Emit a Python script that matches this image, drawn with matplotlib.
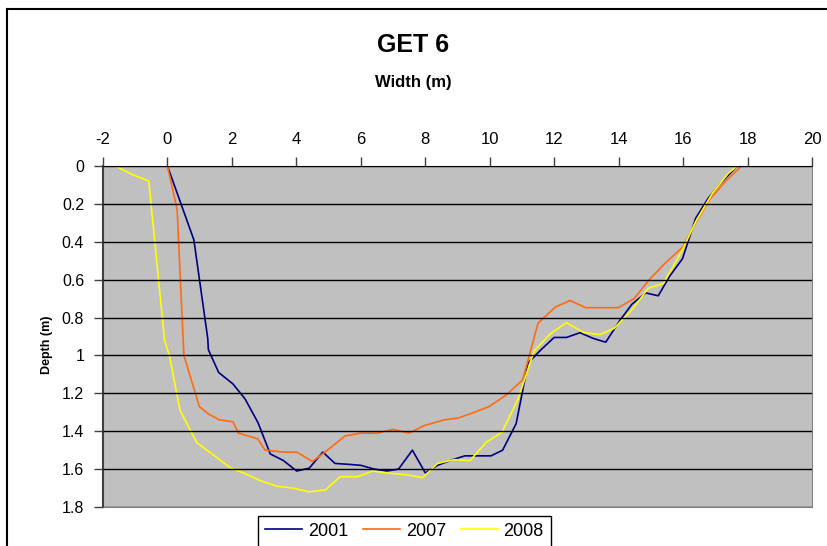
import matplotlib
matplotlib.use("Agg")
import matplotlib.pyplot as plt
from matplotlib.lines import Line2D

plt.rcParams['font.family'] = ['Liberation Sans', 'DejaVu Sans']

# Survey data
x_2001 = [0, 0.82, 1.25, 1.27, 1.59, 2.03, 2.41, 2.81, 3.19, 3.6, 4.01, 4.4, 4.82, 5.2,
          5.64, 6.0, 6.42, 6.8, 7.17, 7.6, 8.0, 8.38, 8.85, 9.23, 9.62, 10.04, 10.4, 10.82,
          11.19, 11.59, 12.0, 12.38, 12.8, 13.21, 13.6, 14.02, 14.41, 14.84, 15.23, 15.59,
          15.98, 16.39, 16.78, 17.17, 17.68]
d_2001 = [0, 0.39, 0.91, 0.97, 1.09, 1.15, 1.23, 1.355, 1.52, 1.555, 1.61, 1.595, 1.51, 1.57,
          1.575, 1.58, 1.60, 1.61, 1.60, 1.50, 1.62, 1.58, 1.55, 1.53, 1.53, 1.53, 1.50, 1.36,
          1.04, 0.97, 0.905, 0.905, 0.88, 0.91, 0.93, 0.82, 0.73, 0.67, 0.685, 0.58,
          0.49, 0.276, 0.17, 0.09, 0]

x_2007 = [0, 0.3, 0.51, 0.99, 1.28, 1.61, 2.03, 2.2, 2.8, 3.03, 3.6, 4.01, 4.5, 5.04, 5.51,
          6.0, 6.52, 6.99, 7.5, 7.97, 8.59, 9.03, 9.52, 9.98, 10.5, 11.02, 11.5, 12.03, 12.49,
          12.98, 13.99, 14.48, 14.95, 15.46, 15.98, 16.39, 16.81, 17.32, 17.81]
d_2007 = [0, 0.23, 1.0, 1.27, 1.31, 1.34, 1.35, 1.41, 1.44, 1.50, 1.51, 1.51, 1.56, 1.49, 1.425,
          1.41, 1.41, 1.39, 1.41, 1.37, 1.34, 1.33, 1.30, 1.27, 1.21, 1.13, 0.83, 0.745, 0.71,
          0.748, 0.748, 0.70, 0.60, 0.51, 0.43, 0.30, 0.18, 0.08, 0]

x_2008 = [-1.61, -1.07, -0.58, -0.09, 0.06, 0.39, 0.91, 1.97, 2.36, 2.87, 3.39, 3.89, 4.4, 4.9,
          5.36, 5.9, 6.37, 6.8, 7.4, 7.92, 8.38, 8.9, 9.39, 9.88, 10.38, 10.88, 11.38, 11.9,
          12.38, 12.93, 13.42, 13.86, 14.43, 14.92, 15.39, 15.98, 16.39, 16.91, 17.4, 17.68]
d_2008 = [0, 0.047, 0.079, 0.92, 1.0, 1.29, 1.46, 1.595, 1.62, 1.66, 1.69, 1.70, 1.72, 1.71,
          1.64, 1.64, 1.61, 1.62, 1.63, 1.645, 1.57, 1.55, 1.555, 1.46, 1.405, 1.23, 0.975, 0.883,
          0.827, 0.88, 0.89, 0.857, 0.756, 0.645, 0.62, 0.443, 0.294, 0.144, 0.039, 0]

x_ticks = list(range(-2, 21, 2))
y_ticks = [0, 0.2, 0.4, 0.6, 0.8, 1, 1.2, 1.4, 1.6, 1.8]
y_labels = ['0', '0.2', '0.4', '0.6', '0.8', '1', '1.2', '1.4', '1.6', '1.8']

W, H = 827, 546
fig = plt.figure(figsize=(W / 100, H / 100), dpi=100)
ax = fig.add_axes([103 / W, 1 - 507 / H, (812 - 103) / W, (507 - 166) / H])
ax.set_facecolor('#C0C0C0')

ax.plot(x_2001, d_2001, color='#000080', lw=1.2, label='2001')
ax.plot(x_2007, d_2007, color='#FF6A13', lw=1.2, label='2007')
ax.plot(x_2008, d_2008, color='#FFFF00', lw=1.2, label='2008')

ax.set_xlim(-2, 20)
ax.set_ylim(1.8, 0)
ax.set_xticks(x_ticks)
ax.set_xticklabels([str(t) for t in x_ticks])
ax.set_yticks(y_ticks)
ax.set_yticklabels(y_labels)

ax.xaxis.tick_top()
ax.tick_params(axis='x', direction='out', length=6.5, width=1, color='#404040',
               labelsize=12, pad=7.5)
ax.tick_params(axis='y', direction='out', length=6.5, width=1, color='#404040',
               labelsize=11.5, pad=7)

ax.yaxis.grid(True, color='black', lw=1)
ax.set_axisbelow(False)

ax.spines['top'].set_color('#202020')
ax.spines['left'].set_color('#404040')
ax.spines['left'].set_linewidth(1.5)
ax.spines['bottom'].set_color('#808080')
ax.spines['right'].set_color('#808080')

fig.text(0.5, 1 - 45 / H, 'GET 6', ha='center', va='center', fontsize=18, fontweight='bold')
fig.text(0.5, 1 - 82 / H, 'Width (m)', ha='center', va='center', fontsize=12, fontweight='bold')
fig.text(47 / W, 1 - 345 / H, 'Depth (m)', ha='center', va='center', rotation=90,
         fontsize=9, fontweight='bold')

leg = ax.legend(loc='upper left', bbox_to_anchor=(258 / W, 1 - 515.5 / H),
                bbox_transform=fig.transFigure, ncol=3, fontsize=13, frameon=True,
                fancybox=False, framealpha=1, edgecolor='black', borderaxespad=0,
                handlelength=2.05, handletextpad=0.3, columnspacing=0.85, borderpad=0.4)
leg.get_frame().set_linewidth(1)

# outer chart frame (cut off at right and bottom)
fig.add_artist(Line2D([6.5 / W, 1], [1 - 8.5 / H, 1 - 8.5 / H], color='black', lw=1.5))
fig.add_artist(Line2D([6.5 / W, 6.5 / W], [0, 1 - 8.5 / H], color='black', lw=1.5))

fig.savefig('out.png', dpi=100)
